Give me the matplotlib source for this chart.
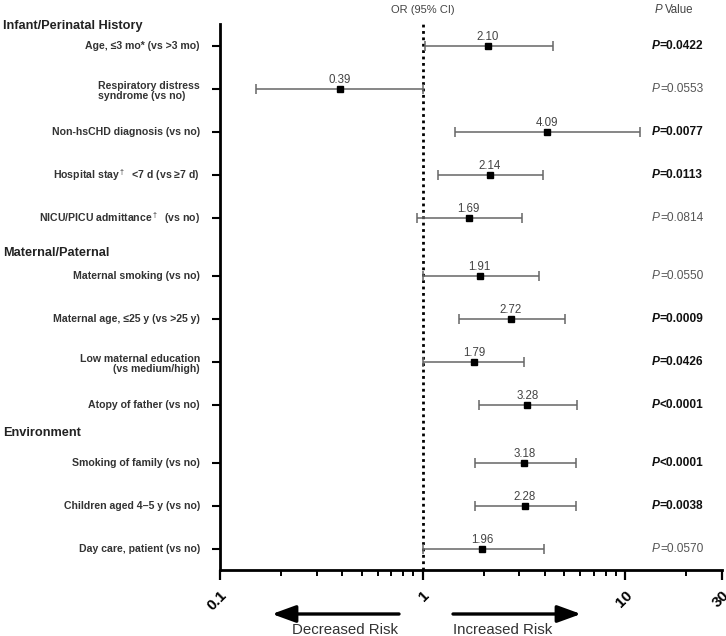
import numpy as np
import matplotlib.pyplot as plt
import matplotlib.transforms as mtransforms

plt.rcParams['font.family'] = ['Liberation Sans', 'DejaVu Sans']
plt.rcParams['mathtext.fontset'] = 'custom'
plt.rcParams['mathtext.rm'] = 'Liberation Sans'
plt.rcParams['mathtext.bf'] = 'Liberation Sans:bold'

# rows, top to bottom
groups = ['Infant/Perinatal History', 'Maternal/Paternal', 'Environment']
group_sizes = [5, 4, 3]
row_labels = [
    'Age, \u22643 mo* (vs >3 mo)',
    'Respiratory distress\nsyndrome (vs no)',
    'Non-hsCHD diagnosis (vs no)',
    'Hospital stay$^\\dagger$  <7 d (vs \u22657 d)',
    'NICU/PICU admittance$^\\dagger$  (vs no)',
    'Maternal smoking (vs no)',
    'Maternal age, \u226425 y (vs >25 y)',
    'Low maternal education\n(vs medium/high)',
    'Atopy of father (vs no)',
    'Smoking of family (vs no)',
    'Children aged 4\u20135 y (vs no)',
    'Day care, patient (vs no)',
]
or_text = ['2.10', '0.39', '4.09', '2.14', '1.69', '1.91', '2.72', '1.79', '3.28', '3.18', '2.28', '1.96']
or_point = [2.10, 0.39, 4.09, 2.14, 1.69, 1.91, 2.72, 1.79, 3.28, 3.18, 3.20, 1.96]
ci_low = [1.03, 0.15, 1.45, 1.19, 0.94, 1.00, 1.51, 1.00, 1.90, 1.81, 1.81, 1.00]
ci_high = [4.38, 1.00, 11.8, 3.92, 3.08, 3.77, 5.02, 3.17, 5.75, 5.73, 5.73, 3.98]
p_sign = ['=', '=', '=', '=', '=', '=', '=', '=', '<', '<', '=', '=']
p_value = ['0.0422', '0.0553', '0.0077', '0.0113', '0.0814', '0.0550',
           '0.0009', '0.0426', '0.0001', '0.0001', '0.0038', '0.0570']
p_bold = [True, False, True, True, False, False, True, True, True, True, True, False]

# y positions with a small gap between groups
grp_idx = np.repeat(np.arange(len(groups)), group_sizes)
ypos = np.arange(len(row_labels)) + 0.35 * grp_idx
group_y = [-0.47, 4.81, 9.0]

fig = plt.figure(figsize=(7.26, 6.36), dpi=100)
ax = fig.add_axes([220/726, 1 - 570/636, 502/726, 546/636])

ax.set_xscale('log')
ax.set_xlim(0.1, 30)
ax.set_ylim(12.19, -0.51)

ax.axvline(1, color='black', lw=2, ls=(0, (1, 1.3)), zorder=1)

lo = np.array(or_point) - np.array(ci_low)
hi = np.array(ci_high) - np.array(or_point)
ax.errorbar(or_point, ypos, xerr=[lo, hi], fmt='s', color='black', ms=4.5,
            ecolor='#666666', elinewidth=1.1, capsize=3.5, capthick=1.1, zorder=3)

for x, y, t in zip(or_point, ypos, or_text):
    ax.annotate(t, (x, y), xytext=(0, 4), textcoords='offset points',
                ha='center', va='baseline', fontsize=8.3, color='#444444')

# row labels
trans_y = mtransforms.blended_transform_factory(ax.transAxes, ax.transData)
for i, (y, lab) in enumerate(zip(ypos, row_labels)):
    if '\n' in lab:
        ma = 'left' if i == 1 else 'right'
        ax.annotate(lab, (-0.04, y), xycoords=trans_y, xytext=(0, 5.5),
                    textcoords='offset points', ha='right', va='top',
                    fontsize=7.6, fontweight='bold', color='#333333',
                    multialignment=ma, linespacing=1.0)
    else:
        ax.text(-0.04, y, lab, transform=trans_y, ha='right', va='center',
                fontsize=7.6, fontweight='bold', color='#333333')

# group headers
trans_fy = mtransforms.blended_transform_factory(fig.transFigure, ax.transData)
for g, y in zip(groups, group_y):
    ax.text(3/726, y, g, transform=trans_fy, ha='left', va='center',
            fontsize=9.2, fontweight='bold', color='#222222', clip_on=False)

# p values
px = (660 - 220) / 502
for y, s, v, b in zip(ypos, p_sign, p_value, p_bold):
    w = 'bold' if b else 'normal'
    c = '#111111' if b else '#555555'
    ax.text(px, y, 'P', transform=trans_y, ha='right', va='center',
            fontsize=8.6, fontstyle='italic', fontweight=w, color=c)
    ax.text(px, y, s + v, transform=trans_y, ha='left', va='center',
            fontsize=8.6, fontweight=w, color=c)

# column headers
fig.text(423/726, 1 - 10/636, 'OR (95% CI)', ha='center', va='center',
         fontsize=8, color='#444444')
fig.text(662/726, 1 - 10/636, 'P', ha='right', va='center',
         fontsize=8.3, fontstyle='italic', color='#444444')
fig.text(665/726, 1 - 10/636, 'Value', ha='left', va='center',
         fontsize=8.3, color='#444444')

# axes styling
for s in ['top', 'right']:
    ax.spines[s].set_visible(False)
for s in ['left', 'bottom']:
    ax.spines[s].set_linewidth(2)
ax.set_yticks(ypos)
ax.set_yticklabels([])
ax.tick_params(axis='y', length=6, width=1.5, direction='out')
ax.set_xticks([0.1, 1, 10, 30])
ax.set_xticks([0.2, 0.3, 0.4, 0.5, 0.6, 0.7, 0.8, 0.9,
               2, 3, 4, 5, 6, 7, 8, 9, 20], minor=True)
ax.set_xticklabels(['0.1', '1', '10', '30'], rotation=45, ha='right',
                   rotation_mode='anchor', fontsize=11, fontweight='bold')
ax.set_xticklabels([], minor=True)
ax.tick_params(axis='x', which='major', length=7, width=1.6, pad=6)
ax.tick_params(axis='x', which='minor', length=4, width=1.4)

# risk arrows
arrow = dict(arrowstyle='-|>,head_length=1.1,head_width=0.4',
             lw=2.4, color='black', mutation_scale=13, shrinkA=0, shrinkB=0)
ax.annotate('', xy=(272, 22), xytext=(399, 22), xycoords='figure pixels',
            arrowprops=arrow)
ax.annotate('', xy=(581, 22), xytext=(453, 22), xycoords='figure pixels',
            arrowprops=arrow)
fig.text(398/726, 13/636, 'Decreased Risk', ha='right', va='top',
         fontsize=10.8, color='#333333')
fig.text(453/726, 13/636, 'Increased Risk', ha='left', va='top',
         fontsize=10.8, color='#333333')

fig.savefig('out.png', dpi=100)
